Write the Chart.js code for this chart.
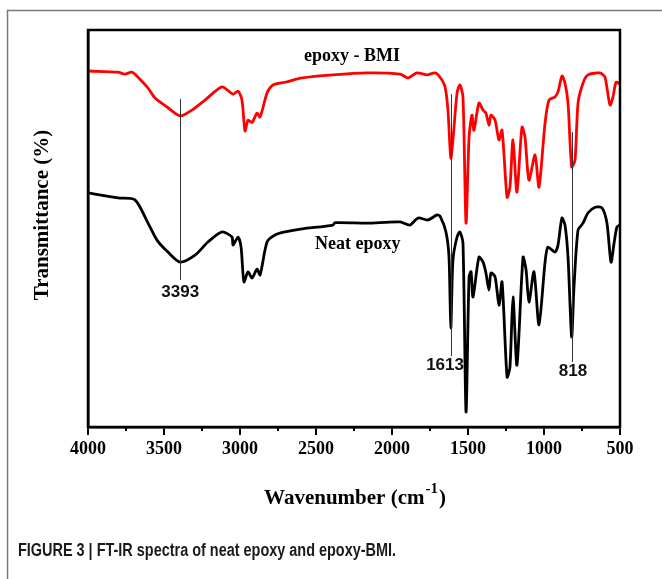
<!DOCTYPE html>
<html>
<head>
<meta charset="utf-8">
<script src="https://cdn.jsdelivr.net/npm/chart.js@4"></script>
<style>
  html, body { margin: 0; padding: 0; background: #fff; }
  #wrap { width: 662px; height: 579px; }
</style>
</head>
<body>
<div id="wrap"><canvas id="ftir" width="662" height="579"></canvas></div>
<script>
// wavenumber (cm-1) and transmittance (arbitrary % scale)
const bmiWn = [4000, 3803, 3757, 3711, 3671, 3605, 3559, 3480, 3393, 3316, 3230, 3118, 3046, 3013, 2987, 2967, 2947, 2921, 2888, 2868, 2822, 2783, 2704, 2592, 2388, 2164, 1947, 1895, 1836, 1770, 1717, 1684, 1651, 1632, 1613, 1599, 1572, 1553, 1533, 1513, 1493, 1474, 1461, 1428, 1401, 1382, 1362, 1349, 1322, 1296, 1276, 1243, 1224, 1204, 1178, 1145, 1125, 1099, 1059, 1033, 993, 967, 928, 908, 882, 862, 842, 818, 796, 776, 743, 711, 632, 599, 566, 546, 526, 500];
const bmiT = [92.0, 91.7, 91.2, 91.7, 90.4, 87.6, 85.0, 82.7, 80.4, 81.9, 84.5, 87.9, 86.0, 86.8, 84.5, 76.5, 79.3, 78.7, 81.1, 80.1, 86.3, 88.4, 89.1, 90.2, 91.0, 91.5, 91.2, 90.2, 91.5, 91.0, 91.5, 90.4, 87.9, 81.9, 69.5, 74.2, 86.3, 88.4, 85.3, 52.7, 74.9, 80.6, 76.7, 83.7, 81.9, 81.1, 78.0, 80.6, 79.3, 74.2, 76.7, 59.4, 62.0, 74.2, 60.7, 77.5, 74.9, 63.8, 70.3, 62.0, 78.6, 84.5, 85.3, 86.6, 90.7, 88.9, 83.7, 67.2, 69.0, 83.7, 88.9, 91.0, 91.5, 90.4, 83.2, 85.3, 89.1, 88.6];

const neatWn = [4000, 3803, 3691, 3605, 3546, 3474, 3393, 3296, 3211, 3118, 3053, 3046, 3013, 2993, 2974, 2947, 2921, 2888, 2868, 2822, 2770, 2704, 2592, 2388, 2375, 2164, 1947, 1882, 1829, 1763, 1704, 1684, 1645, 1625, 1613, 1599, 1572, 1553, 1533, 1513, 1493, 1480, 1467, 1428, 1401, 1382, 1362, 1349, 1322, 1296, 1276, 1243, 1224, 1204, 1178, 1138, 1118, 1099, 1066, 1033, 993, 974, 928, 908, 882, 862, 842, 818, 803, 776, 743, 711, 664, 618, 586, 559, 539, 520, 500];
const neatT = [60.5, 59.2, 58.7, 52.7, 48.3, 45.2, 42.6, 44.4, 47.8, 50.4, 49.1, 47.0, 49.1, 46.5, 37.5, 40.1, 38.5, 40.8, 39.3, 47.8, 49.6, 50.4, 51.2, 52.2, 52.8, 52.7, 53.0, 52.2, 54.0, 53.5, 54.8, 54.5, 50.4, 43.9, 25.6, 43.2, 49.1, 50.4, 47.5, 3.9, 38.8, 40.1, 33.6, 43.9, 42.6, 39.8, 35.4, 39.8, 38.8, 31.5, 37.5, 12.9, 15.5, 33.6, 16.0, 43.9, 40.6, 32.3, 40.1, 26.4, 42.6, 46.5, 45.2, 47.0, 54.0, 52.2, 43.9, 23.3, 35.9, 50.9, 52.7, 55.3, 56.8, 56.6, 52.7, 42.6, 47.5, 51.7, 52.2];

const xTicks = [4000, 3500, 3000, 2500, 2000, 1500, 1000, 500];
const xMinorTicks = [3750, 3250, 2750, 2250, 1750, 1250, 750];

// marked peaks: wavenumber, top and bottom of the guide line, label
const peakWn = [3393, 1613, 818];
const peakTop = [84.8, 86.0, 76.2];
const peakBottom = [38.0, 18.3, 16.8];
const peakLabels = ['3393', '1613', '818'];
const peakLabelWn = [3393, 1651, 809];
const peakLabelT = [33.6, 14.7, 13.2];

const serif = '"Liberation Serif", "Times New Roman", serif';
const sans = '"Liberation Sans", Arial, sans-serif';

const decor = {
  id: 'decor',
  beforeDraw(chart) {
    const ctx = chart.ctx;
    ctx.save();
    ctx.fillStyle = '#fff';
    ctx.fillRect(0, 0, chart.width, chart.height);
    ctx.strokeStyle = '#7a7a7a';
    ctx.lineWidth = 1.5;
    ctx.strokeRect(7.5, 10.5, 700, 700);
    ctx.restore();
  },
  afterDraw(chart) {
    const ctx = chart.ctx;
    const xs = chart.scales.x, ys = chart.scales.y;
    const a = chart.chartArea;
    ctx.save();

    // frame
    ctx.strokeStyle = '#000';
    ctx.lineWidth = 2.5;
    ctx.strokeRect(a.left, a.top, a.right - a.left, a.bottom - a.top);

    // minor ticks
    ctx.lineWidth = 2;
    xMinorTicks.forEach(w => {
      const px = xs.getPixelForValue(w);
      ctx.beginPath();
      ctx.moveTo(px, a.bottom);
      ctx.lineTo(px, a.bottom + 4);
      ctx.stroke();
    });

    // peak guide lines and labels
    ctx.strokeStyle = '#333';
    ctx.lineWidth = 1;
    ctx.fillStyle = '#111';
    ctx.font = 'bold 17px ' + sans;
    ctx.textAlign = 'center';
    ctx.textBaseline = 'alphabetic';
    peakWn.forEach((w, i) => {
      const px = Math.round(xs.getPixelForValue(w)) + 0.5;
      ctx.beginPath();
      ctx.moveTo(px, ys.getPixelForValue(peakTop[i]));
      ctx.lineTo(px, ys.getPixelForValue(peakBottom[i]));
      ctx.stroke();
      ctx.fillText(peakLabels[i], xs.getPixelForValue(peakLabelWn[i]), ys.getPixelForValue(peakLabelT[i]));
    });

    // series names
    ctx.fillStyle = '#000';
    ctx.font = 'bold 18px ' + serif;
    ctx.textAlign = 'center';
    ctx.fillText('epoxy - BMI', xs.getPixelForValue(2263), ys.getPixelForValue(94.6));
    ctx.textAlign = 'left';
    ctx.fillText('Neat epoxy', xs.getPixelForValue(2507), ys.getPixelForValue(46.0));

    // y title
    ctx.save();
    ctx.translate(48, 215);
    ctx.rotate(-Math.PI / 2);
    ctx.textAlign = 'center';
    ctx.font = 'bold 21px ' + serif;
    ctx.fillText('Transmittance (%)', 0, 0);
    ctx.restore();

    // x title with superscript
    const main = 'Wavenumber (cm';
    ctx.font = 'bold 21px ' + serif;
    const w1 = ctx.measureText(main).width;
    const w3 = ctx.measureText(')').width;
    ctx.font = 'bold 15px ' + serif;
    const w2 = ctx.measureText('-1').width;
    const cx = (a.left + a.right) / 2;
    let x0 = cx - (w1 + w2 + w3) / 2;
    const by = 504;
    ctx.textAlign = 'left';
    ctx.font = 'bold 21px ' + serif;
    ctx.fillText(main, x0, by);
    ctx.font = 'bold 15px ' + serif;
    ctx.fillText('-1', x0 + w1 + 1, by - 11);
    ctx.font = 'bold 21px ' + serif;
    ctx.fillText(')', x0 + w1 + w2 + 2, by);

    // caption, condensed to the reference width
    const cap = 'FIGURE 3 | FT-IR spectra of neat epoxy and epoxy-BMI.';
    ctx.font = 'bold 18px ' + sans;
    const cw = ctx.measureText(cap).width;
    ctx.save();
    ctx.translate(18, 556);
    ctx.scale(378 / cw, 1);
    ctx.fillStyle = '#1a1a1a';
    ctx.fillText(cap, 0, 0);
    ctx.restore();

    ctx.restore();
  }
};

new Chart(document.getElementById('ftir'), {
  type: 'line',
  data: {
    datasets: [{
      label: 'epoxy - BMI',
      data: bmiWn.map((w, i) => ({ x: w, y: bmiT[i] })),
      borderColor: '#ff0000',
      borderWidth: 2.8,
      pointRadius: 0,
      tension: 0.25
    }, {
      label: 'Neat epoxy',
      data: neatWn.map((w, i) => ({ x: w, y: neatT[i] })),
      borderColor: '#000000',
      borderWidth: 2.8,
      pointRadius: 0,
      tension: 0.25
    }]
  },
  options: {
    responsive: false,
    devicePixelRatio: 1,
    animation: false,
    layout: { padding: { left: 0, top: 30, right: 42, bottom: 0 } },
    plugins: {
      legend: { display: false },
      tooltip: { enabled: false }
    },
    scales: {
      x: {
        type: 'linear',
        reverse: true,
        min: 500,
        max: 4000,
        afterBuildTicks: scale => { scale.ticks = xTicks.map(v => ({ value: v })); },
        afterFit: scale => { scale.height = 152; },
        grid: { drawOnChartArea: false, drawTicks: true, tickLength: 8, color: '#000', lineWidth: 2 },
        border: { display: true, color: '#000', width: 2.5 },
        ticks: {
          color: '#000',
          padding: 4,
          maxRotation: 0,
          callback: v => String(v),
          font: { family: serif, size: 18, weight: 'bold' }
        }
      },
      y: {
        min: 0,
        max: 102.6,
        afterFit: scale => { scale.width = 88; },
        grid: { display: false },
        border: { display: true, color: '#000', width: 2.5 },
        ticks: { display: false }
      }
    }
  },
  plugins: [decor]
});
</script>
</body>
</html>
